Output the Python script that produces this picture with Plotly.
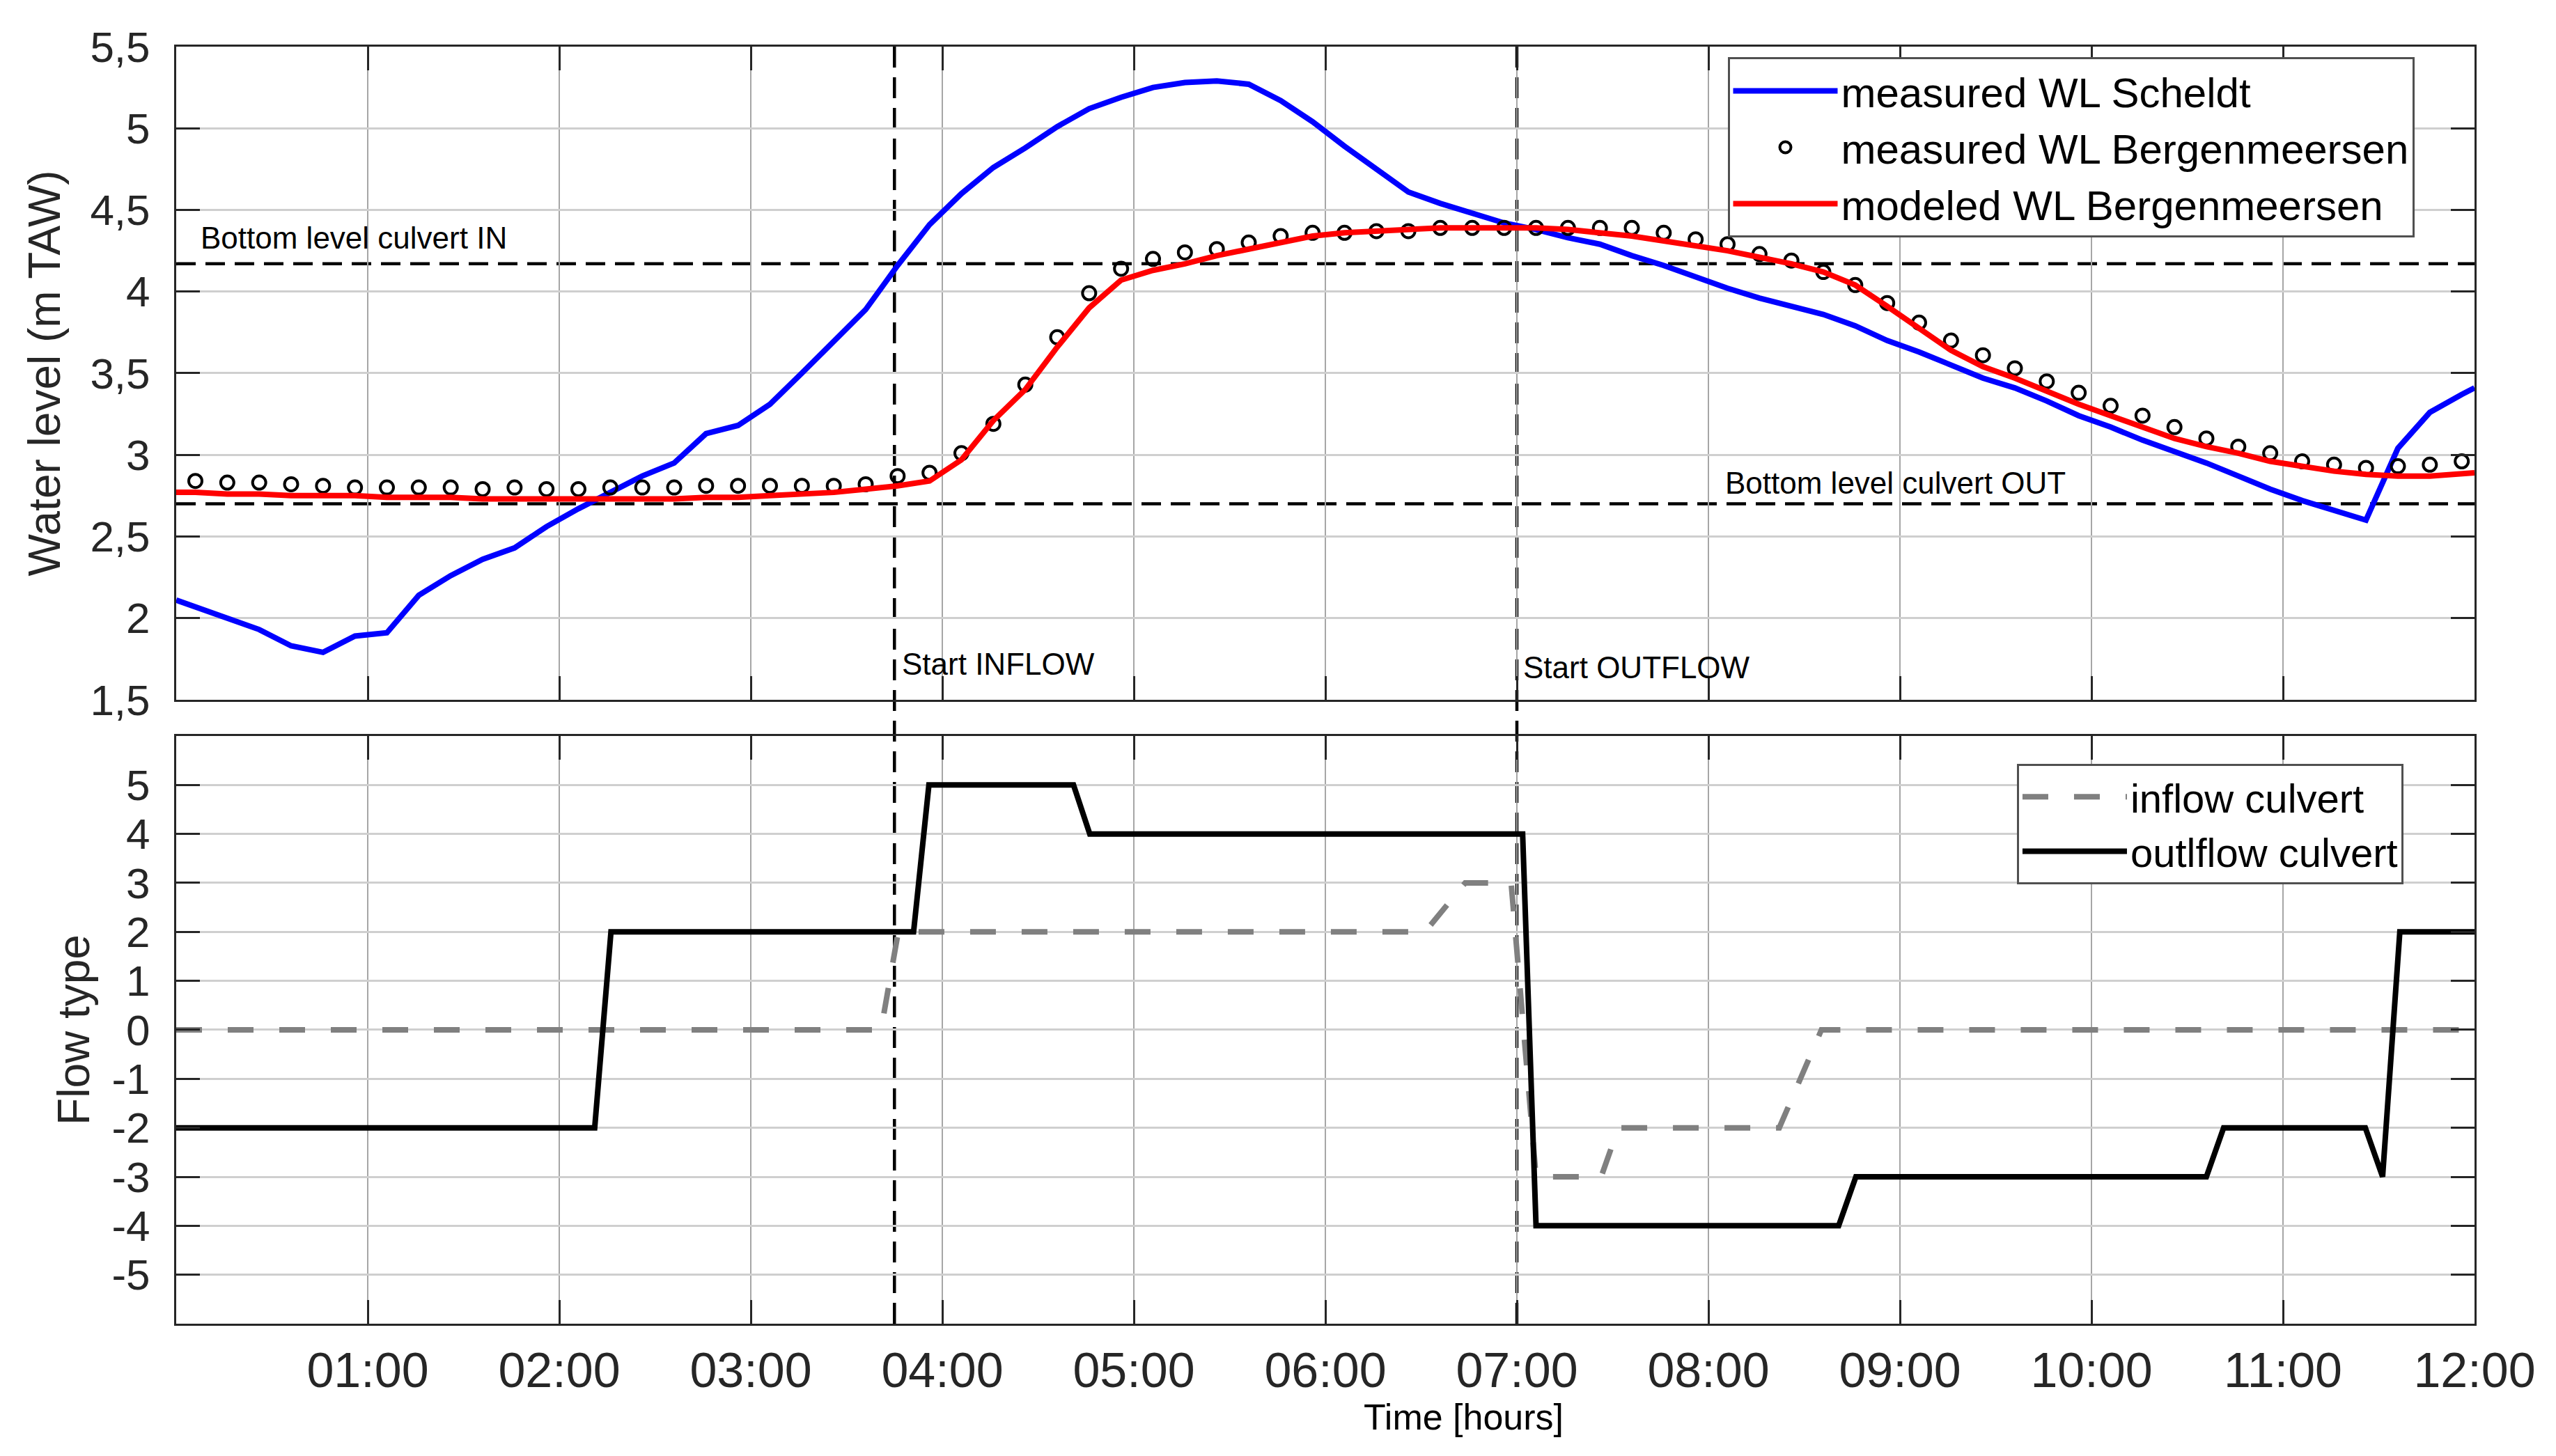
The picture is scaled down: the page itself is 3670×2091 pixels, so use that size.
import plotly.graph_objects as go

# ---------------- data ----------------
# measurement times (minutes after 00:00), 10-min sampling starting 00:06
meas_minutes = list(range(6, 720, 10))

# measured WL Scheldt (m TAW): value at 00:00, at each measurement time, and at 12:00
scheldt_start = 2.11
scheldt_vals = [2.07, 2.00, 1.93, 1.83, 1.79, 1.89, 1.91, 2.14, 2.26, 2.36,
                2.43, 2.56, 2.67, 2.77, 2.87, 2.95, 3.13, 3.18, 3.31, 3.50,
                3.69, 3.89, 4.16, 4.41, 4.60, 4.76, 4.88, 5.01, 5.12, 5.19,
                5.25, 5.28, 5.29, 5.27, 5.17, 5.04, 4.89, 4.75, 4.61, 4.54,
                4.48, 4.42, 4.38, 4.33, 4.29, 4.22, 4.16, 4.09, 4.02, 3.96,
                3.91, 3.86, 3.79, 3.70, 3.63, 3.55, 3.47, 3.41, 3.33, 3.24,
                3.17, 3.09, 3.02, 2.95, 2.87, 2.79, 2.72, 2.66, 2.60, 3.04,
                3.26, 3.37]
scheldt_end = 3.41

# measured WL Bergenmeersen (circles)
berg_meas = [2.84, 2.83, 2.83, 2.82, 2.81, 2.80, 2.80, 2.80, 2.80, 2.79,
             2.80, 2.79, 2.79, 2.80, 2.80, 2.80, 2.81, 2.81, 2.81, 2.81,
             2.81, 2.82, 2.87, 2.89, 3.01, 3.19, 3.43, 3.72, 3.99, 4.14,
             4.20, 4.24, 4.26, 4.30, 4.34, 4.36, 4.36, 4.37, 4.37, 4.39,
             4.39, 4.39, 4.39, 4.39, 4.39, 4.39, 4.36, 4.32, 4.29, 4.23,
             4.19, 4.12, 4.04, 3.93, 3.81, 3.70, 3.61, 3.53, 3.45, 3.38,
             3.30, 3.24, 3.17, 3.10, 3.05, 3.01, 2.96, 2.94, 2.92, 2.93,
             2.94, 2.96]

# modeled WL Bergenmeersen
berg_model_start = 2.77
berg_model = [2.77, 2.76, 2.76, 2.75, 2.75, 2.75, 2.74, 2.74, 2.74, 2.73,
              2.73, 2.73, 2.73, 2.73, 2.73, 2.73, 2.74, 2.74, 2.75, 2.76,
              2.77, 2.79, 2.81, 2.84, 2.97, 3.21, 3.40, 3.66, 3.90, 4.07,
              4.13, 4.17, 4.22, 4.26, 4.30, 4.34, 4.36, 4.37, 4.38, 4.39,
              4.39, 4.39, 4.39, 4.38, 4.36, 4.34, 4.31, 4.28, 4.25, 4.21,
              4.17, 4.12, 4.04, 3.91, 3.77, 3.64, 3.54, 3.47, 3.39, 3.31,
              3.24, 3.17, 3.10, 3.05, 3.01, 2.96, 2.93, 2.90, 2.88, 2.87,
              2.87, 2.88]
berg_model_end = 2.89

# flow types (time in hours)
inflow_t = [0, 3.68, 3.77, 6.52, 6.73, 6.97, 7.10, 7.44, 7.53, 8.37, 8.59, 12]
inflow_v = [0, 0, 2, 2, 3, 3, -3, -3, -2, -2, 0, 0]
outflow_t = [0, 2.185, 2.27, 3.85, 3.93, 4.685, 4.77, 7.03, 7.10, 8.68, 8.77,
             10.60, 10.69, 11.43, 11.52, 11.61, 12]
outflow_v = [-2, -2, 2, 2, 5, 5, 4, 4, -4, -4, -3, -3, -2, -2, -3, 2, 2]

# reference levels / events
bottom_in = 4.17
bottom_out = 2.70
start_inflow = 3.75
start_outflow = 7.0

# ticks
wl_ticks = [1.5, 2, 2.5, 3, 3.5, 4, 4.5, 5, 5.5]
wl_ticktext = ["1,5", "2", "2,5", "3", "3,5", "4", "4,5", "5", "5,5"]
flow_ticks = [-5, -4, -3, -2, -1, 0, 1, 2, 3, 4, 5]
flow_ticktext = ["-5", "-4", "-3", "-2", "-1", "0", "1", "2", "3", "4", "5"]
hour_ticks = [1, 2, 3, 4, 5, 6, 7, 8, 9, 10, 11, 12]
hour_ticktext = ["01:00", "02:00", "03:00", "04:00", "05:00", "06:00",
                 "07:00", "08:00", "09:00", "10:00", "11:00", "12:00"]

# ---------------- figure ----------------
FONT = "Liberation Sans, Arial, sans-serif"
t_meas = [m / 60 for m in meas_minutes]
t_line = [0.0] + t_meas + [12.0]

fig = go.Figure()
fig.add_trace(go.Scatter(
    x=t_line, y=[scheldt_start] + scheldt_vals + [scheldt_end],
    mode="lines", name="measured WL Scheldt",
    line=dict(color="#0000FF", width=8), xaxis="x", yaxis="y", legend="legend"))
fig.add_trace(go.Scatter(
    x=t_meas, y=berg_meas, mode="markers", name="measured WL Bergenmeersen",
    marker=dict(symbol="circle-open", size=19, color="black", line=dict(width=4, color="black")),
    xaxis="x", yaxis="y", legend="legend"))
fig.add_trace(go.Scatter(
    x=t_line, y=[berg_model_start] + berg_model + [berg_model_end],
    mode="lines", name="modeled WL Bergenmeersen",
    line=dict(color="#FF0000", width=8), xaxis="x", yaxis="y", legend="legend"))

fig.add_trace(go.Scatter(
    x=inflow_t, y=inflow_v, mode="lines", name="inflow culvert",
    line=dict(color="#808080", width=8, dash="37px,37px"),
    xaxis="x2", yaxis="y2", legend="legend2"))
fig.add_trace(go.Scatter(
    x=outflow_t, y=outflow_v, mode="lines", name="outlflow culvert",
    line=dict(color="black", width=8),
    xaxis="x2", yaxis="y2", legend="legend2"))

TOP_DOM = [0.4886, 1.0]
BOT_DOM = [0.0, 0.4602]
axis_common = dict(
    showline=True, linecolor="#262626", linewidth=3, mirror="ticks",
    ticks="inside", ticklen=34, tickwidth=3, tickcolor="#262626",
    zeroline=False, showgrid=True,
    tickfont=dict(family=FONT, size=62, color="#262626"),
)

fig.update_layout(
    width=3662, height=2083,
    margin=dict(l=245, r=117, t=59, b=190),
    paper_bgcolor="white", plot_bgcolor="white",
    font=dict(family=FONT, color="black"),
    xaxis=dict(domain=[0, 1], anchor="y", range=[0, 12], tickvals=hour_ticks,
               showticklabels=False, gridcolor="#a6a6a6", gridwidth=2,
               **axis_common),
    yaxis=dict(domain=TOP_DOM, anchor="x", range=[1.5, 5.5], tickvals=wl_ticks,
               ticktext=wl_ticktext, gridcolor="#cfcfcf", gridwidth=3,
               ticklabelstandoff=22,
               title=dict(text="Water level (m TAW)", standoff=22,
                          font=dict(family=FONT, size=64, color="#262626")),
               **axis_common),
    xaxis2=dict(domain=[0, 1], anchor="y2", range=[0, 12], tickvals=hour_ticks,
                ticktext=hour_ticktext, gridcolor="#a6a6a6", gridwidth=2,
                ticklabelstandoff=4,
                **{**axis_common, "tickfont": dict(family=FONT, size=70, color="#262626")}),
    yaxis2=dict(domain=BOT_DOM, anchor="x2", range=[-6, 6], tickvals=flow_ticks,
                ticktext=flow_ticktext,
                gridcolor="#cfcfcf", gridwidth=3, ticklabelstandoff=22,
                title=dict(text="Flow type", standoff=12,
                           font=dict(family=FONT, size=64, color="#262626")),
                **axis_common),
    legend=dict(x=0.675, y=0.9918, xanchor="left", yanchor="top",
                bgcolor="white", bordercolor="#505050", borderwidth=3,
                font=dict(family=FONT, size=60, color="black"),
                itemwidth=150, tracegroupgap=0),
    legend2=dict(x=0.8009, y=0.4384, xanchor="left", yanchor="top",
                 bgcolor="white", bordercolor="#505050", borderwidth=3,
                 font=dict(family=FONT, size=58, color="black"),
                 itemwidth=150, tracegroupgap=0),
    showlegend=True,
)

# reference lines
for lvl in (bottom_in, bottom_out):
    fig.add_shape(type="line", xref="x domain", yref="y", x0=0, x1=1, y0=lvl, y1=lvl,
                  line=dict(color="black", width=4.5, dash="28px,14px"), layer="below")
for tv in (start_inflow, start_outflow):
    fig.add_shape(type="line", xref="x", yref="paper", x0=tv, x1=tv, y0=0, y1=1,
                  line=dict(color="black", width=4.5, dash="30px,14px"), layer="below")

ann_font = dict(family=FONT, size=44, color="black")
fig.add_annotation(x=0.12, y=4.33, xref="x", yref="y", text="Bottom level culvert IN",
                   showarrow=False, xanchor="left", yanchor="middle", font=ann_font)
fig.add_annotation(x=8.08, y=2.83, xref="x", yref="y", text="Bottom level culvert OUT",
                   showarrow=False, xanchor="left", yanchor="middle", font=ann_font)
fig.add_annotation(x=start_inflow + 0.03, y=1.72, xref="x", yref="y", text="Start INFLOW",
                   showarrow=False, xanchor="left", yanchor="middle", font=ann_font)
fig.add_annotation(x=start_outflow + 0.025, y=1.70, xref="x", yref="y", text="Start OUTFLOW",
                   showarrow=False, xanchor="left", yanchor="middle", font=ann_font)
fig.add_annotation(x=0.5603, y=-0.0731, xref="paper", yref="paper", text="Time [hours]",
                   showarrow=False, xanchor="center", yanchor="middle",
                   font=dict(family=FONT, size=52, color="black"))

fig.write_html("out.html")
